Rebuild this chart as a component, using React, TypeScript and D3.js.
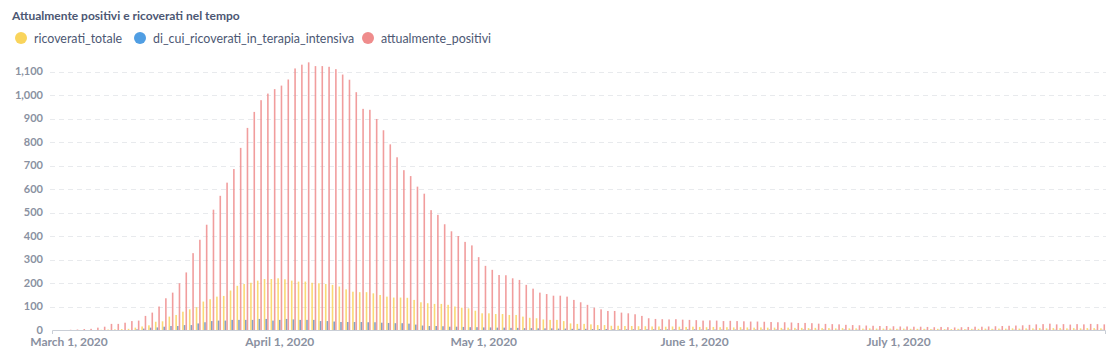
import { useEffect, useRef } from 'react';
import * as d3 from 'd3';

// daily values, Feb 28 2020 .. Jul 31 2020
const startDay = new Date(2020, 1, 28);
const endDay = new Date(2020, 7, 1);

const ricoveratiTotale = [
  0, 0, 0, 0, 0, 0, 0, 1, 2, 3,
  4, 5, 10, 15, 20, 35, 37, 57, 64, 78,
  88, 97, 121, 131, 142, 145, 168, 188, 196, 201,
  210, 217, 217, 220, 216, 210, 206, 206, 201, 199,
  196, 192, 185, 173, 163, 161, 161, 156, 149, 142,
  138, 138, 137, 128, 118, 114, 111, 111, 107, 100,
  95, 92, 82, 71, 71, 68, 68, 64, 64, 57,
  52, 50, 45, 43, 43, 38, 28, 26, 26, 24,
  21, 21, 18, 18, 17, 17, 16, 16, 15, 15,
  14, 15, 14, 13, 14, 13, 12, 13, 12, 12,
  11, 12, 11, 10, 11, 10, 10, 9, 10, 9,
  9, 8, 9, 8, 8, 7, 8, 7, 7, 6,
  7, 6, 6, 6, 5, 6, 5, 5, 5, 4,
  5, 4, 4, 5, 4, 5, 5, 6, 5, 6,
  6, 7, 6, 7, 7, 8, 7, 8, 8, 7,
  8, 7, 8, 8, 7,
];

const terapiaIntensiva = [
  0, 0, 0, 0, 0, 0, 0, 0, 0, 0,
  0, 0, 3, 6, 10, 11, 14, 17, 17, 21,
  21, 28, 33, 38, 40, 40, 43, 43, 43, 43,
  47, 47, 40, 43, 47, 45, 43, 43, 43, 38,
  38, 36, 34, 34, 34, 34, 33, 33, 31, 30,
  29, 29, 27, 23, 19, 17, 17, 16, 14, 14,
  13, 12, 12, 11, 11, 10, 10, 9, 9, 8,
  8, 7, 7, 7, 6, 6, 5, 5, 5, 4,
  4, 4, 3, 3, 3, 3, 3, 3, 3, 3,
  3, 3, 3, 3, 3, 2, 3, 2, 2, 2,
  2, 2, 2, 2, 2, 2, 2, 2, 2, 2,
  2, 2, 1, 2, 1, 1, 2, 1, 1, 1,
  1, 1, 1, 1, 1, 1, 1, 1, 1, 1,
  1, 1, 0, 1, 1, 1, 0, 1, 1, 1,
  1, 1, 1, 1, 1, 1, 1, 1, 1, 1,
  1, 1, 1, 1, 1,
];

const attualmentePositivi = [
  0, 0, 1, 2, 4, 5, 10, 14, 26, 26,
  31, 38, 40, 60, 74, 100, 135, 159, 199, 245,
  327, 384, 448, 512, 571, 627, 685, 775, 860, 928,
  978, 1006, 1025, 1040, 1066, 1113, 1129, 1139, 1123, 1123,
  1120, 1110, 1087, 1065, 1012, 941, 937, 898, 850, 790,
  735, 680, 655, 610, 580, 510, 490, 450, 420, 400,
  375, 360, 310, 273, 256, 234, 233, 220, 213, 192,
  176, 159, 153, 146, 146, 142, 128, 118, 107, 95,
  88, 81, 81, 74, 71, 67, 60, 50, 47, 46,
  45, 46, 44, 43, 42, 40, 41, 40, 38, 39,
  38, 37, 36, 36, 35, 34, 33, 33, 32, 30,
  30, 29, 27, 26, 25, 24, 22, 21, 20, 19,
  18, 17, 17, 16, 15, 15, 14, 14, 13, 12,
  13, 12, 11, 12, 13, 14, 14, 15, 16, 17,
  18, 19, 20, 22, 24, 25, 27, 24, 25, 23,
  25, 24, 26, 25, 24,
];

const seriesNames = ['ricoverati_totale', 'di_cui_ricoverati_in_terapia_intensiva', 'attualmente_positivi'];
const seriesColors = ['#F9D45C', '#509EE3', '#EF8C8C'];
const yTicks = [0, 100, 200, 300, 400, 500, 600, 700, 800, 900, 1000, 1100];
const monthTicks = [new Date(2020, 2, 1), new Date(2020, 3, 1), new Date(2020, 4, 1), new Date(2020, 5, 1), new Date(2020, 6, 1)];
const monthLabels = ['March 1, 2020', 'April 1, 2020', 'May 1, 2020', 'June 1, 2020', 'July 1, 2020'];

export default function App() {
  const svgRef = useRef<SVGSVGElement>(null);

  useEffect(() => {
    if (!svgRef.current) return;
    const width = 1115;
    const height = 362;
    const left = 52, right = 1106, bottom = 330;

    d3.select(svgRef.current).selectAll('*').remove();
    const svg = d3.select(svgRef.current)
      .attr('width', width)
      .attr('height', height)
      .style('font-family', 'Lato, sans-serif');

    const days = d3.timeDay.range(startDay, endDay);
    const values = [ricoveratiTotale, terapiaIntensiva, attualmentePositivi];

    const x = d3.scaleBand<number>()
      .domain(days.map(d => +d))
      .range([left, right])
      .paddingInner(0.25)
      .paddingOuter(0.125);

    const xSub = d3.scaleBand<number>()
      .domain([0, 1, 2])
      .range([0, x.bandwidth()])
      .padding(0.05);

    const y = d3.scaleLinear().domain([0, 1100]).range([bottom, 71.5]);

    // title
    svg.append('text')
      .attr('x', 12)
      .attr('y', 20)
      .style('font-size', '12px')
      .style('font-weight', 'bold')
      .attr('fill', '#4C5773')
      .text('Attualmente positivi e ricoverati nel tempo');

    // legend
    const legendX = [21, 140, 368];
    seriesNames.forEach((name, i) => {
      svg.append('circle')
        .attr('cx', legendX[i])
        .attr('cy', 38)
        .attr('r', 6)
        .attr('fill', seriesColors[i]);
      svg.append('text')
        .attr('x', legendX[i] + 13)
        .attr('y', 42.5)
        .style('font-size', '12.4px')
        .attr('fill', '#4C5773')
        .text(name);
    });

    // grid
    svg.append('g')
      .selectAll('line')
      .data(yTicks.filter(t => t > 0))
      .enter()
      .append('line')
      .attr('x1', 50)
      .attr('x2', right)
      .attr('y1', d => Math.round(y(d)) + 0.5)
      .attr('y2', d => Math.round(y(d)) + 0.5)
      .attr('stroke', '#E8EAED')
      .attr('stroke-dasharray', '5,4');

    // y labels
    svg.append('g')
      .selectAll('text')
      .data(yTicks)
      .enter()
      .append('text')
      .attr('x', 43)
      .attr('y', d => y(d))
      .attr('dy', '0.35em')
      .attr('text-anchor', 'end')
      .style('font-size', '11px')
      .style('font-weight', 'bold')
      .attr('fill', '#8A91A1')
      .text(d => d3.format(',')(d));

    // bars
    values.forEach((vals, s) => {
      svg.append('g')
        .selectAll('rect')
        .data(days)
        .enter()
        .append('rect')
        .attr('x', (d) => (x(+d) as number) + (xSub(s) as number))
        .attr('width', xSub.bandwidth())
        .attr('y', (_d, i) => y(vals[i]))
        .attr('height', (_d, i) => bottom - y(vals[i]))
        .attr('fill', s === 1 ? '#6F8FBA' : seriesColors[s])
        .attr('opacity', 0.85);
    });

    // x axis
    const axis = svg.append('g').attr('transform', `translate(0,${bottom})`);
    axis.append('path')
      .attr('d', `M${left + 0.5},4V0.5H${right - 0.5}V4`)
      .attr('fill', 'none')
      .attr('stroke', '#C9CED6');

    axis.selectAll('text.month')
      .data(monthTicks)
      .enter()
      .append('text')
      .attr('class', 'month')
      .attr('x', d => (x(+d) as number) + x.bandwidth() / 2)
      .attr('y', 16)
      .attr('text-anchor', 'middle')
      .style('font-size', '12px')
      .style('font-weight', 'bold')
      .attr('fill', '#8A91A1')
      .text((_d, i) => monthLabels[i]);
  }, []);

  return <svg ref={svgRef} style={{ position: 'absolute', left: 0, top: 0 }}></svg>;
}
